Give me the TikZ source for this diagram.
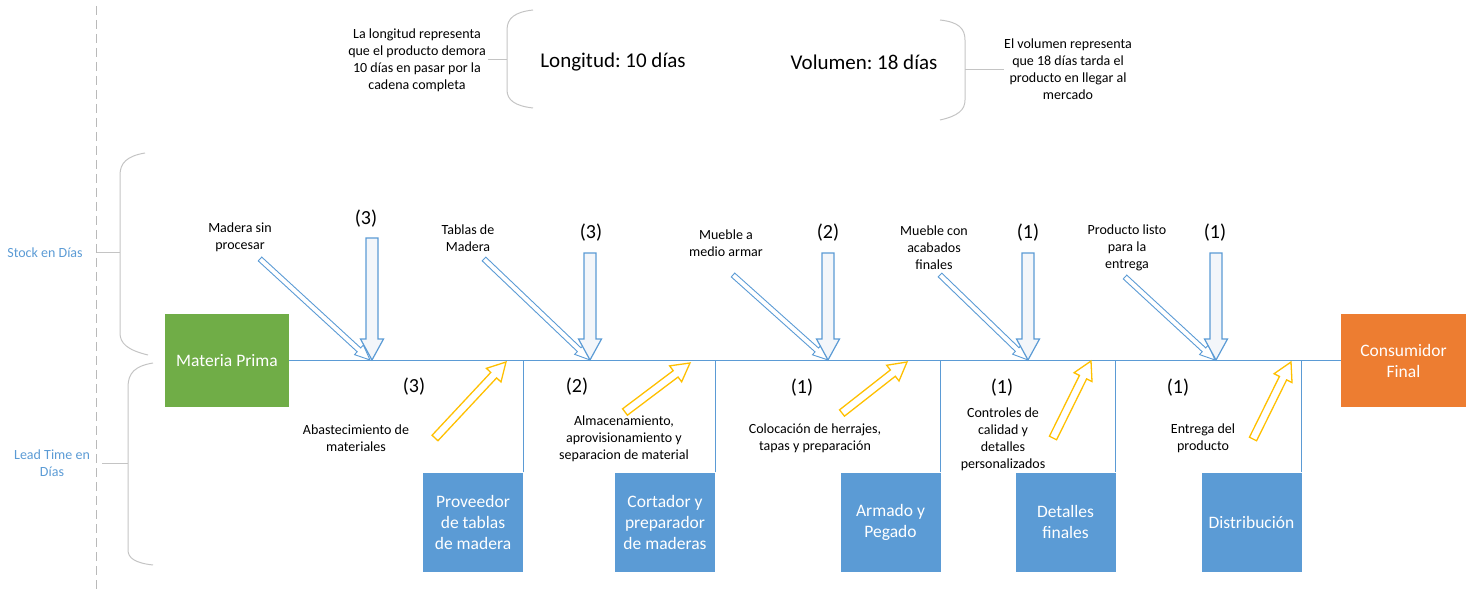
\documentclass[tikz,border=0pt]{standalone}
\usepackage{fontspec}
\setmainfont{Carlito}
\frenchspacing
\usetikzlibrary{calc}
\definecolor{oblue}{HTML}{5B9BD5}
\definecolor{ogreen}{HTML}{70AD47}
\definecolor{oorange}{HTML}{ED7D31}
\definecolor{oyellow}{HTML}{FFC000}
\definecolor{bgray}{HTML}{C4C4C4}
\definecolor{arrfill}{HTML}{F3F6FA}
% hollow block arrow: style, tail, tip, shaft half width, head half width, head length
\newcommand{\harrow}[6]{%
  \draw[#1] let \p1=(#2),\p2=(#3),\n1={atan2(\y2-\y1,\x2-\x1)},\n2={veclen(\x2-\x1,\y2-\y1)} in
    [shift={(\p1)},rotate=\n1] (0,#4) -- ({\n2-#6},#4) -- ({\n2-#6},#5) -- (\n2,0)
    -- ({\n2-#6},-#5) -- ({\n2-#6},-#4) -- (0,-#4) -- cycle;}
\begin{document}
\begin{tikzpicture}[x=1pt,y=-1pt,
  lbl/.style={font=\fontsize{14}{17}\selectfont, align=center, inner sep=0pt},
  num/.style={font=\fontsize{20}{24}\selectfont, inner sep=0pt},
  big/.style={font=\fontsize{21}{25}\selectfont, inner sep=0pt},
  side/.style={font=\fontsize{14}{17}\selectfont, align=center, inner sep=0pt, text=oblue},
  boxtxt/.style={font=\fontsize{17.5}{21}\selectfont, text=white, align=center, inner sep=0pt},
  blubox/.style={boxtxt, fill=oblue, minimum width=100pt, minimum height=99pt},
  endbox/.style={boxtxt, minimum width=124pt, minimum height=93pt},
  mainline/.style={draw=oblue, line width=1.3pt},
  brk/.style={draw=bgray, line width=1pt},
  diag/.style={draw=oblue, line width=0.9pt, fill=white, line join=miter},
  downarr/.style={draw=oblue, line width=1.2pt, fill=arrfill},
  yarr/.style={draw=oyellow, line width=1.3pt, fill=white}
]
\useasboundingbox (0,0) rectangle (1474,593);

% dashed separator
\draw[gray!55, line width=1pt, dash pattern=on 9pt off 5pt] (96,6) -- (96,593);

% top texts
\node[lbl] (lontxt) at (417,60) {La longitud representa\\que el producto demora\\10 días en pasar por la\\cadena completa};
\node[big] (lon) at (613,62) {Longitud: 10 días};
\node[big] (vol) at (864,62) {Volumen: 18 días};
\node[lbl] (voltxt) at (1068,69) {El volumen representa\\que 18 días tarda el\\producto en llegar al\\mercado};

% top brackets
\draw[brk] (533,10) .. controls (515,12) and (507,18) .. (507,30) -- (507,90) .. controls (507,100) and (515,106) .. (533,108);
\draw[brk] (lontxt.east |- 0,60) ++(2,0) -- (507,60);
\draw[brk] (940,20) .. controls (958,22) and (965,28) .. (965,40) -- (965,100) .. controls (965,110) and (958,116) .. (940,120);
\draw[brk] (965,70) -- (voltxt.west |- 0,70);

% side labels and brackets
\node[side] (stock) at (45,253) {Stock en Días};
\node[side] (lead) at (52,463) {Lead Time en\\Días};
\draw[brk] (145,153) .. controls (127,156) and (120,163) .. (120,175) -- (120,333) .. controls (120,343) and (127,350) .. (148,355);
\draw[brk] (97,253) -- (120,253);
\draw[brk] (153,363) .. controls (135,366) and (128,373) .. (128,387) -- (128,550) .. controls (128,558) and (135,563) .. (153,565);
\draw[brk] (102,463) -- (128,463);

% end boxes
\node[endbox, fill=ogreen] (mp) at (227,360.5) {Materia Prima};
\node[endbox, fill=oorange, minimum width=125pt] (cf) at (1403.5,360.5) {Consumidor\\Final};

% process boxes
\node[blubox] (b1) at (473,522) {Proveedor\\de tablas\\de madera};
\node[blubox] (b2) at (665,522) {Cortador y\\preparador\\de maderas};
\node[blubox] (b3) at (890.5,522) {Armado y\\Pegado};
\node[blubox] (b4) at (1065.5,522) {Detalles\\finales};
\node[blubox] (b5) at (1251.5,522) {Distribución};

% main line and drops
\draw[mainline] (mp.east) -- (cf.west);
\foreach \b in {b1,b2,b3,b4,b5}{
  \draw[mainline] (\b.north east) -- (\b.north east |- mp.east);
}

% upper labels
\node[lbl] (u1) at (240,237) {Madera sin\\procesar};
\node[lbl] (u2) at (468,238) {Tablas de\\Madera};
\node[lbl] (u3) at (726,243) {Mueble a\\medio armar};
\node[lbl] (u4) at (934,248) {Mueble con\\acabados\\finales};
\node[lbl] (u5) at (1127,248) {Producto listo\\para la\\entrega};

\node[num] (n1) at (366,219) {(3)};
\node[num] (n2) at (591,233) {(3)};
\node[num] (n3) at (828,233) {(2)};
\node[num] (n4) at (1028,233) {(1)};
\node[num] (n5) at (1215,233) {(1)};

% lower labels
\node[num] (m1) at (414,387) {(3)};
\node[num] (m2) at (577,387) {(2)};
\node[num] (m3) at (802,388) {(1)};
\node[num] (m4) at (1002,388) {(1)};
\node[num] (m5) at (1178,388) {(1)};

\node[lbl] (l1) at (356,438) {Abastecimiento de\\materiales};
\node[lbl] (l2) at (624,439) {Almacenamiento,\\aprovisionamiento y\\separacion de material};
\node[lbl] (l3) at (815,438) {Colocación de herrajes,\\tapas y preparación};
\node[lbl] (l4) at (1003,439) {Controles de\\calidad y\\detalles\\personalizados};
\node[lbl] (l5) at (1203,438) {Entrega del\\producto};

% arrow end points
\coordinate (dt1) at (260,259);  \coordinate (dh1) at (370,360);
\coordinate (dt2) at (484,259);  \coordinate (dh2) at (590,360);
\coordinate (dt3) at (733,275);  \coordinate (dh3) at (828,360);
\coordinate (dt4) at (940,275);  \coordinate (dh4) at (1028,360);
\coordinate (dt5) at (1125,277); \coordinate (dh5) at (1215,360);

\coordinate (vt1) at (372,238);  \coordinate (vh1) at (372,360);
\coordinate (vt2) at (590,253);  \coordinate (vh2) at (590,360);
\coordinate (vt3) at (828,253);  \coordinate (vh3) at (828,360);
\coordinate (vt4) at (1028,253); \coordinate (vh4) at (1028,360);
\coordinate (vt5) at (1216,253); \coordinate (vh5) at (1216,360);

\coordinate (yt1) at (435,438);  \coordinate (yh1) at (506,362);
\coordinate (yt2) at (625,412);  \coordinate (yh2) at (690,363);
\coordinate (yt3) at (842,413);  \coordinate (yh3) at (907,362);
\coordinate (yt4) at (1053,438); \coordinate (yh4) at (1091,361);
\coordinate (yt5) at (1253,439); \coordinate (yh5) at (1291,362);

% diagonal stock arrows
\foreach \i in {1,...,5}{
  \harrow{diag}{dt\i}{dh\i}{2.6}{6.5}{15}
}
% vertical stock arrows
\foreach \i in {1,...,5}{
  \harrow{downarr}{vt\i}{vh\i}{6}{11.5}{21}
}
% yellow lead-time arrows
\foreach \i in {1,...,5}{
  \harrow{yarr}{yt\i}{yh\i}{4}{10}{18}
}
\end{tikzpicture}
\end{document}
